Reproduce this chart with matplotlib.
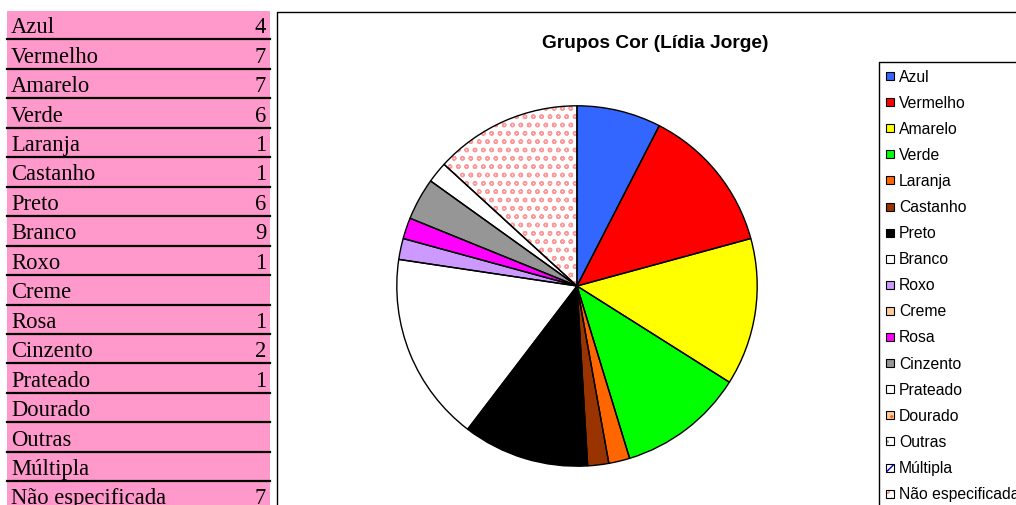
import matplotlib
matplotlib.use('Agg')
import matplotlib.pyplot as plt
from matplotlib.patches import Rectangle

categories = ['Azul', 'Vermelho', 'Amarelo', 'Verde', 'Laranja', 'Castanho', 'Preto',
              'Branco', 'Roxo', 'Creme', 'Rosa', 'Cinzento', 'Prateado', 'Dourado',
              'Outras', 'Múltipla', 'Não especificada']
values = [4, 7, 7, 6, 1, 1, 6, 9, 1, 0, 1, 2, 1, 0, 0, 0, 7]
colors = ['#3366FF', '#FF0000', '#FFFF00', '#00FF00', '#FF6600', '#993300', '#000000',
          '#FFFFFF', '#CC99FF', '#FFCC99', '#FF00FF', '#969696', '#FFFFFF', '#FFCC99',
          '#FFFFFF', '#FFFFFF', '#FFFFFF']
# patterns for the last few entries (hatch, hatch colour)
patterns = {'Outras': ('..', '#A0A0A0'), 'Múltipla': ('////', '#0000CC'),
            'Não especificada': ('oo', '#FF9999'), 'Dourado': ('..', '#FF6600')}
title = 'Grupos Cor (Lídia Jorge)'

W, H = 1016, 506
fig = plt.figure(figsize=(W / 100, H / 100), dpi=100)

# pixel-coordinate overlay for table, frame and legend
bg = fig.add_axes([0, 0, 1, 1])
bg.set_xlim(0, W)
bg.set_ylim(H, 0)
bg.axis('off')

# left table
row_h = 29.45
top = 12
for i, (cat, v) in enumerate(zip(categories, values)):
    y0 = top + i * row_h
    bg.add_patch(Rectangle((7, y0), 263, row_h, facecolor='#FF99CC', edgecolor='none'))
    bg.plot([7, 270], [y0 + row_h - 1, y0 + row_h - 1], color='black', lw=1.6)
    bg.text(11, y0 + row_h / 2 + 1, cat, family='Liberation Serif', fontsize=16.3,
            va='center', ha='left')
    if v:
        bg.text(266, y0 + row_h / 2 + 1, str(v), family='Liberation Serif', fontsize=16.3,
                va='center', ha='right')

# chart frame
bg.plot([276.5, 276.5, 1020], [520, 12.5, 12.5], color='black', lw=1)
bg.text(655, 43, title, family='Liberation Sans', fontsize=13.8, fontweight='bold',
        ha='center', va='center')

# legend
bg.plot([878.5, 878.5, 1020], [520, 62.5, 62.5], color='black', lw=1)
for i, (cat, c) in enumerate(zip(categories, colors)):
    y = 77 + i * 26.1
    hatch, hc = patterns.get(cat, (None, None))
    bg.add_patch(Rectangle((886, y - 4), 8, 8, facecolor=c,
                           edgecolor=hc if hc else 'none', hatch=hatch, lw=0))
    bg.add_patch(Rectangle((886, y - 4), 8, 8, facecolor='none', edgecolor='black', lw=0.8))
    bg.text(899, y, cat, family='Liberation Sans', fontsize=11.3, va='center', ha='left')

# pie
r = 182
cx, cy = 577, 287
ax = fig.add_axes([(cx - r) / W, (H - cy - r) / H, 2 * r / W, 2 * r / H])
nz = [(v, c, cat) for v, c, cat in zip(values, colors, categories) if v > 0]
vals = [t[0] for t in nz]
wedges, _ = ax.pie(vals, colors=[t[1] for t in nz], startangle=90, counterclock=False,
                   wedgeprops=dict(linewidth=0))
for w, (v, c, cat) in zip(wedges, nz):
    if cat in patterns:
        hatch, hc = patterns[cat]
        w.set_hatch(hatch)
        w.set_edgecolor(hc)
        w.set_linewidth(0)
outl, _ = ax.pie(vals, startangle=90, counterclock=False,
                 wedgeprops=dict(fill=False, edgecolor='black', linewidth=1))
ax.set_xlim(-1.01, 1.01)
ax.set_ylim(-1.01, 1.01)

fig.savefig('out.png', dpi=100)
